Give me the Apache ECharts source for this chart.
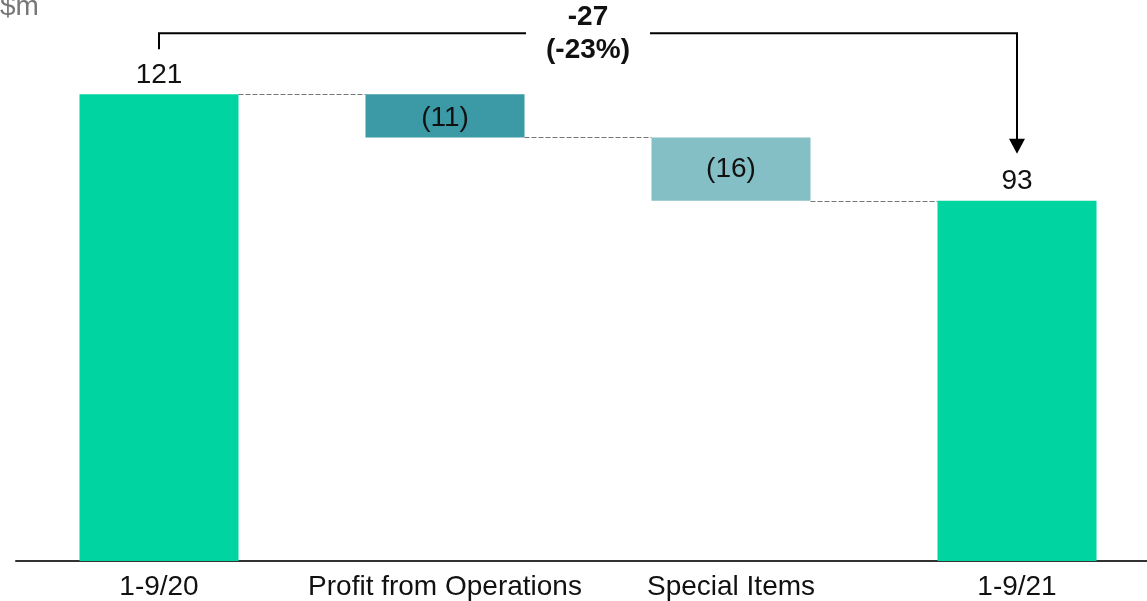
<!DOCTYPE html>
<html>
<head>
<meta charset="utf-8">
<script src="https://cdn.jsdelivr.net/npm/echarts@6/dist/echarts.min.js"></script>
<style>
html,body{margin:0;padding:0;background:#fff;overflow:hidden;width:1147px;height:601px;}
#chart{width:1160px;height:601px;}
</style>
</head>
<body>
<div id="chart"></div>
<script>
const categories = ['1-9/20', 'Profit from Operations', 'Special Items', '1-9/21'];
const startValue = 121.0;
const deltas = [-11.2, -16.4];
const endValue = 93.4;
const totalChangeLabel = '-27';
const totalPctLabel = '(-23%)';
const unitLabel = '$m';

const colTotal = '#00D4A1';
const colOps = '#3B9AA6';
const colSpecial = '#83BFC5';

// build waterfall
const baseData = [0];
const barData = [startValue];
let running = startValue;
deltas.forEach(d => {
  const next = running + d;
  baseData.push(Math.min(running, next));
  barData.push(Math.abs(d));
  running = next;
});
baseData.push(0);
barData.push(endValue);
const labelTexts = [String(Math.round(startValue))]
  .concat(deltas.map(d => d < 0 ? '(' + Math.round(-d) + ')' : String(Math.round(d))))
  .concat([String(Math.round(endValue))]);
const colors = [colTotal, colOps, colSpecial, colTotal];
const levels = [startValue, startValue + deltas[0], startValue + deltas[0] + deltas[1], endValue];

const FONT = 'Liberation Sans, Arial, sans-serif';
const BARPCT = 0.556;

const chart = echarts.init(document.getElementById('chart'));
chart.setOption({
  animation: false,
  grid: { left: 16, top: 21, bottom: 40, right: 0 },
  xAxis: {
    type: 'category',
    data: categories,
    axisLine: { lineStyle: { color: '#333', width: 2 } },
    axisTick: { show: false },
    axisLabel: { color: '#111', fontSize: 28, fontFamily: FONT, margin: 12, interval: 0 }
  },
  yAxis: { type: 'value', min: 0, max: 140, show: false, splitLine: { show: false } },
  series: [
    {
      type: 'bar', stack: 'w', data: baseData,
      itemStyle: { color: 'transparent' }, silent: true,
      barWidth: (BARPCT * 100) + '%'
    },
    {
      type: 'bar', stack: 'w',
      barWidth: (BARPCT * 100) + '%',
      data: barData.map((v, i) => ({
        value: v,
        itemStyle: { color: colors[i] },
        label: {
          show: true,
          position: (i === 0 || i === 3) ? 'top' : 'inside',
          distance: 5,
          offset: i === 1 ? [0, 2] : [0, 0],
          formatter: () => labelTexts[i],
          color: '#111', fontSize: 28, fontFamily: FONT
        }
      }))
    }
  ]
});

function px(ci, v) { return chart.convertToPixel({ gridIndex: 0 }, [ci, v]); }
const band = px(1, 0)[0] - px(0, 0)[0];
const half = band * BARPCT / 2;

const graphics = [];
// connectors
for (let i = 0; i < 3; i++) {
  const p1 = px(i, levels[i]);
  const p2 = px(i + 1, levels[i]);
  graphics.push({
    type: 'line', z: 10,
    shape: { x1: p1[0] + half, y1: Math.round(p1[1]) + 0.5, x2: p2[0] - half, y2: Math.round(p1[1]) + 0.5 },
    style: { stroke: '#777', lineWidth: 1, lineDash: [5, 2] }
  });
}
// bracket
const pL = px(0, startValue);
const pR = px(3, endValue);
const yTop = pL[1] - 61;
const midX = (pL[0] + pR[0]) / 2;
const gapHalf = 62;
const lineStyle = { stroke: '#000', lineWidth: 2 };
graphics.push({ type: 'polyline', z: 10, shape: { points: [[pL[0], pL[1] - 45], [pL[0], yTop], [midX - gapHalf, yTop]] }, style: Object.assign({ fill: null }, lineStyle) });
const tipY = pR[1] - 47;
graphics.push({ type: 'polyline', z: 10, shape: { points: [[midX + gapHalf, yTop], [pR[0], yTop], [pR[0], tipY - 14]] }, style: Object.assign({ fill: null }, lineStyle) });
graphics.push({ type: 'polygon', z: 10, shape: { points: [[pR[0] - 8, tipY - 15], [pR[0] + 8, tipY - 15], [pR[0], tipY]] }, style: { fill: '#000' } });
graphics.push({
  type: 'text', z: 10, x: midX, y: yTop - 16,
  style: { text: totalChangeLabel, fill: '#111', font: 'bold 28px ' + FONT, textAlign: 'center', textVerticalAlign: 'middle' }
});
graphics.push({
  type: 'text', z: 10, x: midX, y: yTop + 17,
  style: { text: totalPctLabel, fill: '#111', font: 'bold 28px ' + FONT, textAlign: 'center', textVerticalAlign: 'middle' }
});
graphics.push({
  type: 'text', z: 10, x: 0, y: 21,
  style: { text: unitLabel, fill: '#777', font: '28px ' + FONT, textAlign: 'left', textVerticalAlign: 'bottom' }
});
chart.setOption({ graphic: graphics });
</script>
</body>
</html>
